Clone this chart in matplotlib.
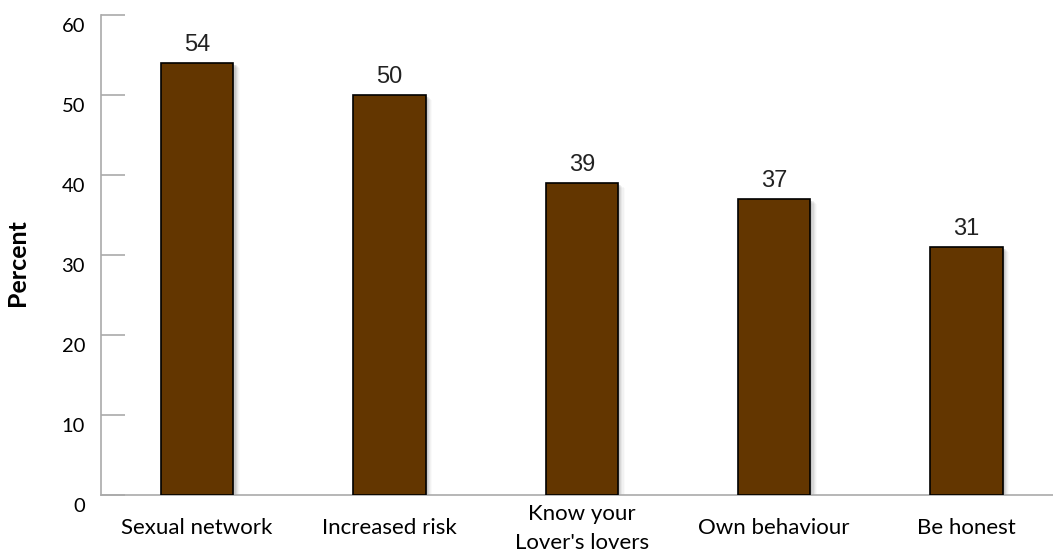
import matplotlib.pyplot as plt
import matplotlib.transforms as mtransforms
import numpy as np

categories = ['Sexual network', 'Increased risk', "Know your\nLover's lovers",
              'Own behaviour', 'Be honest']
values = [54, 50, 39, 37, 31]
yticks = [0, 10, 20, 30, 40, 50, 60]

bar_color = '#633600'
width = 0.375
x = np.arange(len(categories))

fig = plt.figure(figsize=(10.53, 5.56), dpi=100)
ax = fig.add_axes([0.0959, 0.1097, 0.9041, 0.8633])

# soft drop shadow behind the bars
for k, a in zip([1, 2, 3, 4, 5, 6], [0.10, 0.08, 0.06, 0.045, 0.03, 0.02]):
    off = k * 0.006
    ax.bar(x + off, np.array(values) - k * 0.05, width=width, bottom=-k * 0.05,
           color='black', alpha=a, linewidth=0, zorder=1)

ax.bar(x, values, width=width, color=bar_color, edgecolor='black',
       linewidth=1.2, zorder=3)

for xi, v in zip(x, values):
    ax.text(xi, v + 0.9, str(v), ha='center', va='bottom', fontsize=17,
            family='Liberation Sans', color='#222222', zorder=4)

ax.set_xlim(-0.5, 4.45)
ax.set_ylim(0, 60)
ax.set_yticks(yticks)
ax.set_xticks(x)
ax.set_xticklabels(categories, fontsize=16, family='Lato', linespacing=1.6)
for lbl in ax.get_xticklabels():
    lbl.set_verticalalignment('center')
ax.tick_params(axis='x', length=0, pad=24)
ax.tick_params(axis='y', direction='in', length=17, color='#aaaaaa',
               width=1.2, pad=11.5, labelsize=14.5)
# the y labels sit a little below their ticks in the original
shift = mtransforms.ScaledTranslation(0, -10 / 100, fig.dpi_scale_trans)
for lbl in ax.get_yticklabels():
    lbl.set_family('Lato')
    lbl.set_transform(lbl.get_transform() + shift)

for s in ['top', 'right']:
    ax.spines[s].set_visible(False)
for s in ['left', 'bottom']:
    ax.spines[s].set_color('#aaaaaa')
    ax.spines[s].set_linewidth(1.2)

ax.set_ylabel('Percent', fontsize=18, fontweight='bold', family='Lato')
ax.yaxis.set_label_coords(-0.076, 0.485)

fig.savefig('out.png', dpi=100)
